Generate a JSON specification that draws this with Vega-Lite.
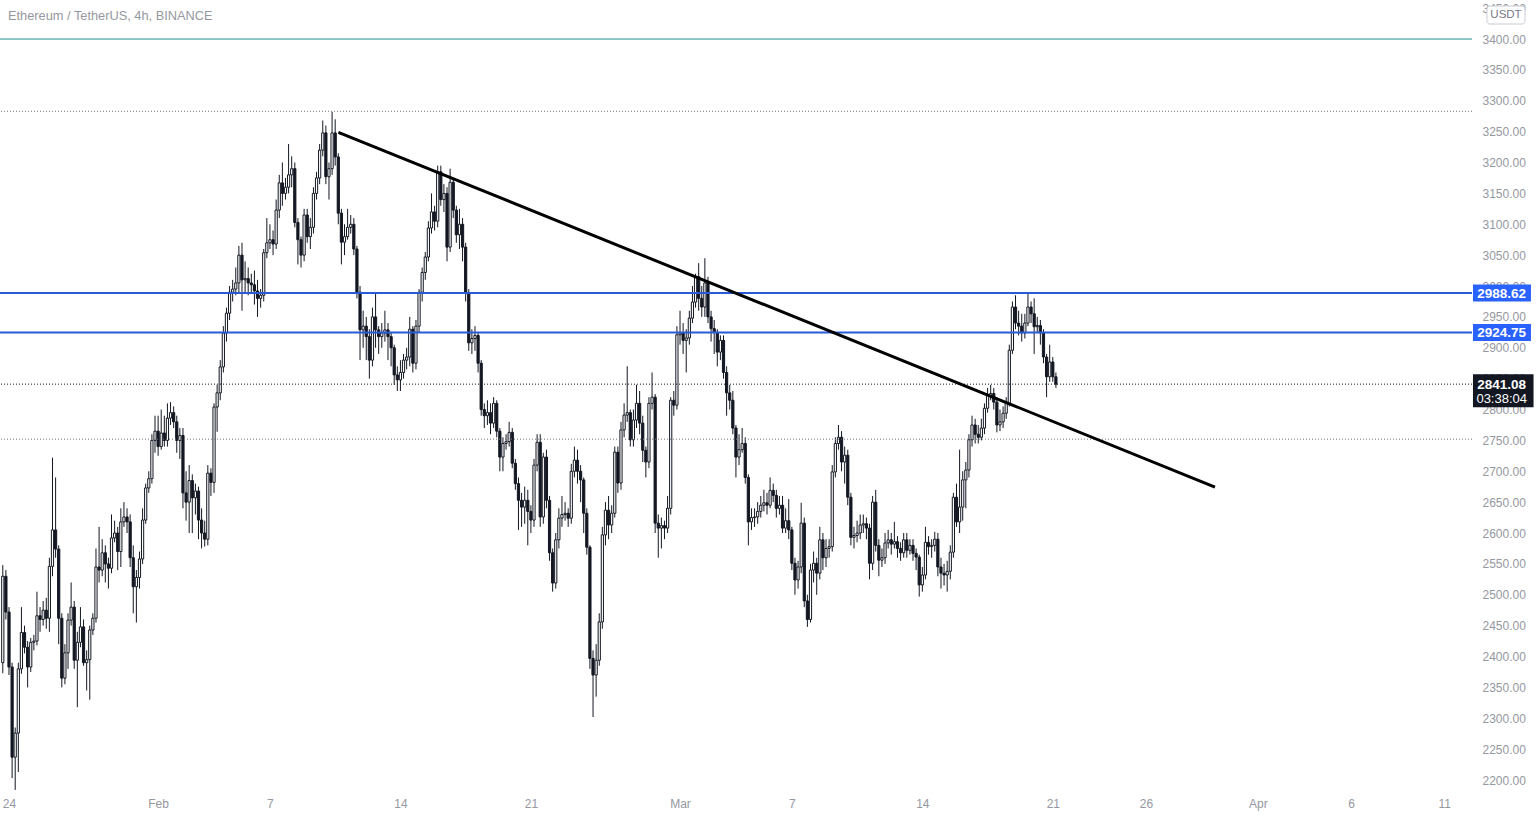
{
"$schema":"https://vega.github.io/schema/vega-lite/v6.json",
"width":1472,"height":792,"padding":{"left":0,"top":0,"right":68,"bottom":26},"autosize":{"type":"none"},
"background":"#ffffff",
"config":{"view":{"stroke":null},"font":"Liberation Sans","scale":{"continuousPadding":0},"axis":{"title":null,"grid":false,"ticks":false,"domain":false,"labelColor":"#9598a1","labelFontSize":12,"labelFont":"Liberation Sans","labelOverlap":false,"labelFlush":false,"labelBound":false}},
"title":{"text":"Ethereum / TetherUS, 4h, BINANCE","anchor":"start","orient":"top","frame":"group","offset":-33,"dx":8,"baseline":"alphabetic","fontSize":12.8,"fontWeight":"normal","color":"#9598a1","font":"Liberation Sans"},
"datasets":{
"candles":[
{"t":"2022-01-23T16:00Z","o":2390,"h":2548,"l":2373,"c":2530},
{"t":"2022-01-23T20:00Z","o":2530,"h":2540,"l":2460,"c":2472},
{"t":"2022-01-24T00:00Z","o":2472,"h":2480,"l":2370,"c":2383},
{"t":"2022-01-24T04:00Z","o":2383,"h":2390,"l":2203,"c":2237},
{"t":"2022-01-24T08:00Z","o":2237,"h":2285,"l":2184,"c":2276},
{"t":"2022-01-24T12:00Z","o":2276,"h":2390,"l":2213,"c":2380},
{"t":"2022-01-24T16:00Z","o":2380,"h":2480,"l":2372,"c":2439},
{"t":"2022-01-24T20:00Z","o":2439,"h":2450,"l":2405,"c":2415},
{"t":"2022-01-25T00:00Z","o":2415,"h":2425,"l":2350,"c":2383},
{"t":"2022-01-25T04:00Z","o":2383,"h":2430,"l":2375,"c":2423},
{"t":"2022-01-25T08:00Z","o":2423,"h":2435,"l":2410,"c":2425},
{"t":"2022-01-25T12:00Z","o":2425,"h":2505,"l":2418,"c":2466},
{"t":"2022-01-25T16:00Z","o":2466,"h":2480,"l":2440,"c":2460},
{"t":"2022-01-25T20:00Z","o":2460,"h":2490,"l":2450,"c":2475},
{"t":"2022-01-26T00:00Z","o":2475,"h":2495,"l":2445,"c":2462},
{"t":"2022-01-26T04:00Z","o":2462,"h":2560,"l":2440,"c":2546},
{"t":"2022-01-26T08:00Z","o":2546,"h":2722,"l":2530,"c":2605},
{"t":"2022-01-26T12:00Z","o":2605,"h":2690,"l":2560,"c":2574},
{"t":"2022-01-26T16:00Z","o":2574,"h":2580,"l":2420,"c":2462},
{"t":"2022-01-26T20:00Z","o":2462,"h":2470,"l":2350,"c":2365},
{"t":"2022-01-27T00:00Z","o":2365,"h":2420,"l":2355,"c":2406},
{"t":"2022-01-27T04:00Z","o":2406,"h":2470,"l":2380,"c":2459},
{"t":"2022-01-27T08:00Z","o":2459,"h":2520,"l":2450,"c":2480},
{"t":"2022-01-27T12:00Z","o":2480,"h":2490,"l":2380,"c":2394},
{"t":"2022-01-27T16:00Z","o":2394,"h":2440,"l":2318,"c":2423},
{"t":"2022-01-27T20:00Z","o":2423,"h":2480,"l":2415,"c":2448},
{"t":"2022-01-28T00:00Z","o":2448,"h":2460,"l":2385,"c":2390},
{"t":"2022-01-28T04:00Z","o":2390,"h":2410,"l":2345,"c":2395},
{"t":"2022-01-28T08:00Z","o":2395,"h":2450,"l":2330,"c":2443},
{"t":"2022-01-28T12:00Z","o":2443,"h":2470,"l":2435,"c":2462},
{"t":"2022-01-28T16:00Z","o":2462,"h":2575,"l":2455,"c":2545},
{"t":"2022-01-28T20:00Z","o":2545,"h":2610,"l":2520,"c":2540},
{"t":"2022-01-29T00:00Z","o":2540,"h":2590,"l":2530,"c":2568},
{"t":"2022-01-29T04:00Z","o":2568,"h":2580,"l":2520,"c":2550},
{"t":"2022-01-29T08:00Z","o":2550,"h":2560,"l":2510,"c":2543},
{"t":"2022-01-29T12:00Z","o":2543,"h":2630,"l":2535,"c":2592},
{"t":"2022-01-29T16:00Z","o":2592,"h":2620,"l":2585,"c":2600},
{"t":"2022-01-29T20:00Z","o":2600,"h":2610,"l":2540,"c":2570},
{"t":"2022-01-30T00:00Z","o":2570,"h":2640,"l":2545,"c":2618},
{"t":"2022-01-30T04:00Z","o":2618,"h":2650,"l":2610,"c":2626},
{"t":"2022-01-30T08:00Z","o":2626,"h":2640,"l":2600,"c":2618},
{"t":"2022-01-30T12:00Z","o":2618,"h":2630,"l":2545,"c":2560},
{"t":"2022-01-30T16:00Z","o":2560,"h":2580,"l":2470,"c":2513},
{"t":"2022-01-30T20:00Z","o":2513,"h":2540,"l":2455,"c":2528},
{"t":"2022-01-31T00:00Z","o":2528,"h":2570,"l":2510,"c":2558},
{"t":"2022-01-31T04:00Z","o":2558,"h":2640,"l":2550,"c":2621},
{"t":"2022-01-31T08:00Z","o":2621,"h":2680,"l":2615,"c":2673},
{"t":"2022-01-31T12:00Z","o":2673,"h":2700,"l":2665,"c":2688},
{"t":"2022-01-31T16:00Z","o":2688,"h":2760,"l":2680,"c":2750},
{"t":"2022-01-31T20:00Z","o":2750,"h":2790,"l":2730,"c":2765},
{"t":"2022-02-01T00:00Z","o":2765,"h":2790,"l":2725,"c":2740},
{"t":"2022-02-01T04:00Z","o":2740,"h":2800,"l":2735,"c":2762},
{"t":"2022-02-01T08:00Z","o":2762,"h":2790,"l":2740,"c":2750},
{"t":"2022-02-01T12:00Z","o":2750,"h":2810,"l":2740,"c":2786},
{"t":"2022-02-01T16:00Z","o":2786,"h":2812,"l":2775,"c":2795},
{"t":"2022-02-01T20:00Z","o":2795,"h":2805,"l":2770,"c":2780},
{"t":"2022-02-02T00:00Z","o":2780,"h":2790,"l":2730,"c":2750},
{"t":"2022-02-02T04:00Z","o":2750,"h":2770,"l":2720,"c":2758},
{"t":"2022-02-02T08:00Z","o":2758,"h":2770,"l":2640,"c":2665},
{"t":"2022-02-02T12:00Z","o":2665,"h":2700,"l":2620,"c":2650},
{"t":"2022-02-02T16:00Z","o":2650,"h":2710,"l":2600,"c":2685},
{"t":"2022-02-02T20:00Z","o":2685,"h":2695,"l":2600,"c":2657},
{"t":"2022-02-03T00:00Z","o":2657,"h":2680,"l":2630,"c":2668},
{"t":"2022-02-03T04:00Z","o":2668,"h":2675,"l":2590,"c":2621},
{"t":"2022-02-03T08:00Z","o":2621,"h":2640,"l":2575,"c":2600},
{"t":"2022-02-03T12:00Z","o":2600,"h":2620,"l":2578,"c":2590},
{"t":"2022-02-03T16:00Z","o":2590,"h":2710,"l":2580,"c":2697},
{"t":"2022-02-03T20:00Z","o":2697,"h":2705,"l":2660,"c":2682},
{"t":"2022-02-04T00:00Z","o":2682,"h":2810,"l":2665,"c":2804},
{"t":"2022-02-04T04:00Z","o":2804,"h":2840,"l":2764,"c":2827},
{"t":"2022-02-04T08:00Z","o":2827,"h":2880,"l":2815,"c":2869},
{"t":"2022-02-04T12:00Z","o":2869,"h":2935,"l":2860,"c":2924},
{"t":"2022-02-04T16:00Z","o":2924,"h":2965,"l":2910,"c":2956},
{"t":"2022-02-04T20:00Z","o":2956,"h":3000,"l":2945,"c":2990},
{"t":"2022-02-05T00:00Z","o":2990,"h":3010,"l":2975,"c":2995},
{"t":"2022-02-05T04:00Z","o":2995,"h":3030,"l":2985,"c":3005},
{"t":"2022-02-05T08:00Z","o":3005,"h":3065,"l":2990,"c":3050},
{"t":"2022-02-05T12:00Z","o":3050,"h":3070,"l":2960,"c":3010},
{"t":"2022-02-05T16:00Z","o":3010,"h":3040,"l":2990,"c":3012},
{"t":"2022-02-05T20:00Z","o":3012,"h":3030,"l":2985,"c":3005},
{"t":"2022-02-06T00:00Z","o":3005,"h":3020,"l":2990,"c":3002},
{"t":"2022-02-06T04:00Z","o":3002,"h":3025,"l":2970,"c":2992},
{"t":"2022-02-06T08:00Z","o":2992,"h":3010,"l":2950,"c":2980},
{"t":"2022-02-06T12:00Z","o":2980,"h":2995,"l":2965,"c":2985},
{"t":"2022-02-06T16:00Z","o":2985,"h":3060,"l":2975,"c":3054},
{"t":"2022-02-06T20:00Z","o":3054,"h":3110,"l":3045,"c":3070},
{"t":"2022-02-07T00:00Z","o":3070,"h":3100,"l":3060,"c":3075},
{"t":"2022-02-07T04:00Z","o":3075,"h":3090,"l":3050,"c":3068},
{"t":"2022-02-07T08:00Z","o":3068,"h":3140,"l":3060,"c":3123},
{"t":"2022-02-07T12:00Z","o":3123,"h":3180,"l":3110,"c":3167},
{"t":"2022-02-07T16:00Z","o":3167,"h":3200,"l":3130,"c":3150},
{"t":"2022-02-07T20:00Z","o":3150,"h":3175,"l":3140,"c":3160},
{"t":"2022-02-08T00:00Z","o":3160,"h":3230,"l":3150,"c":3180},
{"t":"2022-02-08T04:00Z","o":3180,"h":3210,"l":3160,"c":3190},
{"t":"2022-02-08T08:00Z","o":3190,"h":3200,"l":3095,"c":3103},
{"t":"2022-02-08T12:00Z","o":3103,"h":3110,"l":3035,"c":3075},
{"t":"2022-02-08T16:00Z","o":3075,"h":3080,"l":3030,"c":3050},
{"t":"2022-02-08T20:00Z","o":3050,"h":3125,"l":3040,"c":3115},
{"t":"2022-02-09T00:00Z","o":3115,"h":3125,"l":3070,"c":3080},
{"t":"2022-02-09T04:00Z","o":3080,"h":3110,"l":3060,"c":3095},
{"t":"2022-02-09T08:00Z","o":3095,"h":3160,"l":3085,"c":3150},
{"t":"2022-02-09T12:00Z","o":3150,"h":3185,"l":3140,"c":3175},
{"t":"2022-02-09T16:00Z","o":3175,"h":3230,"l":3165,"c":3220},
{"t":"2022-02-09T20:00Z","o":3220,"h":3268,"l":3210,"c":3248},
{"t":"2022-02-10T00:00Z","o":3248,"h":3260,"l":3165,"c":3177},
{"t":"2022-02-10T04:00Z","o":3177,"h":3200,"l":3140,"c":3190},
{"t":"2022-02-10T08:00Z","o":3190,"h":3282,"l":3180,"c":3248},
{"t":"2022-02-10T12:00Z","o":3248,"h":3270,"l":3195,"c":3209},
{"t":"2022-02-10T16:00Z","o":3209,"h":3215,"l":3100,"c":3118},
{"t":"2022-02-10T20:00Z","o":3118,"h":3125,"l":3035,"c":3071},
{"t":"2022-02-11T00:00Z","o":3071,"h":3100,"l":3050,"c":3080},
{"t":"2022-02-11T04:00Z","o":3080,"h":3125,"l":3075,"c":3095},
{"t":"2022-02-11T08:00Z","o":3095,"h":3115,"l":3085,"c":3100},
{"t":"2022-02-11T12:00Z","o":3100,"h":3110,"l":3050,"c":3060},
{"t":"2022-02-11T16:00Z","o":3060,"h":3065,"l":2980,"c":2990},
{"t":"2022-02-11T20:00Z","o":2990,"h":3000,"l":2880,"c":2929},
{"t":"2022-02-12T00:00Z","o":2929,"h":2960,"l":2900,"c":2935},
{"t":"2022-02-12T04:00Z","o":2935,"h":2950,"l":2880,"c":2918},
{"t":"2022-02-12T08:00Z","o":2918,"h":2930,"l":2850,"c":2880},
{"t":"2022-02-12T12:00Z","o":2880,"h":2965,"l":2870,"c":2950},
{"t":"2022-02-12T16:00Z","o":2950,"h":2990,"l":2900,"c":2929},
{"t":"2022-02-12T20:00Z","o":2929,"h":2935,"l":2890,"c":2918},
{"t":"2022-02-13T00:00Z","o":2918,"h":2940,"l":2900,"c":2924},
{"t":"2022-02-13T04:00Z","o":2924,"h":2960,"l":2910,"c":2929},
{"t":"2022-02-13T08:00Z","o":2929,"h":2940,"l":2880,"c":2918},
{"t":"2022-02-13T12:00Z","o":2918,"h":2925,"l":2870,"c":2900},
{"t":"2022-02-13T16:00Z","o":2900,"h":2905,"l":2840,"c":2856},
{"t":"2022-02-13T20:00Z","o":2856,"h":2870,"l":2830,"c":2848},
{"t":"2022-02-14T00:00Z","o":2848,"h":2880,"l":2830,"c":2860},
{"t":"2022-02-14T04:00Z","o":2860,"h":2890,"l":2850,"c":2880},
{"t":"2022-02-14T08:00Z","o":2880,"h":2900,"l":2865,"c":2885},
{"t":"2022-02-14T12:00Z","o":2885,"h":2950,"l":2870,"c":2930},
{"t":"2022-02-14T16:00Z","o":2930,"h":2935,"l":2860,"c":2875},
{"t":"2022-02-14T20:00Z","o":2875,"h":2945,"l":2865,"c":2935},
{"t":"2022-02-15T00:00Z","o":2935,"h":2995,"l":2925,"c":2990},
{"t":"2022-02-15T04:00Z","o":2990,"h":3030,"l":2975,"c":3022},
{"t":"2022-02-15T08:00Z","o":3022,"h":3055,"l":3010,"c":3047},
{"t":"2022-02-15T12:00Z","o":3047,"h":3105,"l":3040,"c":3094},
{"t":"2022-02-15T16:00Z","o":3094,"h":3150,"l":3085,"c":3120},
{"t":"2022-02-15T20:00Z","o":3120,"h":3130,"l":3090,"c":3105},
{"t":"2022-02-16T00:00Z","o":3105,"h":3195,"l":3095,"c":3185},
{"t":"2022-02-16T04:00Z","o":3185,"h":3195,"l":3130,"c":3140},
{"t":"2022-02-16T08:00Z","o":3140,"h":3165,"l":3120,"c":3150},
{"t":"2022-02-16T12:00Z","o":3150,"h":3160,"l":3040,"c":3063},
{"t":"2022-02-16T16:00Z","o":3063,"h":3190,"l":3055,"c":3168},
{"t":"2022-02-16T20:00Z","o":3168,"h":3175,"l":3110,"c":3123},
{"t":"2022-02-17T00:00Z","o":3123,"h":3130,"l":3070,"c":3083},
{"t":"2022-02-17T04:00Z","o":3083,"h":3125,"l":3060,"c":3100},
{"t":"2022-02-17T08:00Z","o":3100,"h":3110,"l":3040,"c":3063},
{"t":"2022-02-17T12:00Z","o":3063,"h":3070,"l":2975,"c":2988},
{"t":"2022-02-17T16:00Z","o":2988,"h":2995,"l":2895,"c":2908},
{"t":"2022-02-17T20:00Z","o":2908,"h":2930,"l":2890,"c":2915},
{"t":"2022-02-18T00:00Z","o":2915,"h":2935,"l":2895,"c":2920},
{"t":"2022-02-18T04:00Z","o":2920,"h":2925,"l":2860,"c":2875},
{"t":"2022-02-18T08:00Z","o":2875,"h":2880,"l":2790,"c":2800},
{"t":"2022-02-18T12:00Z","o":2800,"h":2810,"l":2770,"c":2790},
{"t":"2022-02-18T16:00Z","o":2790,"h":2815,"l":2775,"c":2795},
{"t":"2022-02-18T20:00Z","o":2795,"h":2810,"l":2760,"c":2778},
{"t":"2022-02-19T00:00Z","o":2778,"h":2820,"l":2770,"c":2810},
{"t":"2022-02-19T04:00Z","o":2810,"h":2815,"l":2755,"c":2765},
{"t":"2022-02-19T08:00Z","o":2765,"h":2770,"l":2700,"c":2723},
{"t":"2022-02-19T12:00Z","o":2723,"h":2755,"l":2700,"c":2745},
{"t":"2022-02-19T16:00Z","o":2745,"h":2760,"l":2735,"c":2748},
{"t":"2022-02-19T20:00Z","o":2748,"h":2780,"l":2740,"c":2763},
{"t":"2022-02-20T00:00Z","o":2763,"h":2770,"l":2705,"c":2713},
{"t":"2022-02-20T04:00Z","o":2713,"h":2720,"l":2670,"c":2680},
{"t":"2022-02-20T08:00Z","o":2680,"h":2690,"l":2605,"c":2653},
{"t":"2022-02-20T12:00Z","o":2653,"h":2665,"l":2610,"c":2642},
{"t":"2022-02-20T16:00Z","o":2642,"h":2675,"l":2615,"c":2653},
{"t":"2022-02-20T20:00Z","o":2653,"h":2670,"l":2580,"c":2635},
{"t":"2022-02-21T00:00Z","o":2635,"h":2645,"l":2600,"c":2621},
{"t":"2022-02-21T04:00Z","o":2621,"h":2720,"l":2610,"c":2710},
{"t":"2022-02-21T08:00Z","o":2710,"h":2760,"l":2700,"c":2747},
{"t":"2022-02-21T12:00Z","o":2747,"h":2760,"l":2610,"c":2626},
{"t":"2022-02-21T16:00Z","o":2626,"h":2730,"l":2615,"c":2723},
{"t":"2022-02-21T20:00Z","o":2723,"h":2735,"l":2640,"c":2653},
{"t":"2022-02-22T00:00Z","o":2653,"h":2660,"l":2555,"c":2568},
{"t":"2022-02-22T04:00Z","o":2568,"h":2575,"l":2505,"c":2519},
{"t":"2022-02-22T08:00Z","o":2519,"h":2600,"l":2510,"c":2589},
{"t":"2022-02-22T12:00Z","o":2589,"h":2640,"l":2575,"c":2624},
{"t":"2022-02-22T16:00Z","o":2624,"h":2660,"l":2610,"c":2630},
{"t":"2022-02-22T20:00Z","o":2630,"h":2650,"l":2620,"c":2632},
{"t":"2022-02-23T00:00Z","o":2632,"h":2640,"l":2610,"c":2624},
{"t":"2022-02-23T04:00Z","o":2624,"h":2712,"l":2615,"c":2700},
{"t":"2022-02-23T08:00Z","o":2700,"h":2740,"l":2690,"c":2718},
{"t":"2022-02-23T12:00Z","o":2718,"h":2735,"l":2680,"c":2700},
{"t":"2022-02-23T16:00Z","o":2700,"h":2710,"l":2650,"c":2686},
{"t":"2022-02-23T20:00Z","o":2686,"h":2690,"l":2600,"c":2632},
{"t":"2022-02-24T00:00Z","o":2632,"h":2640,"l":2565,"c":2577},
{"t":"2022-02-24T04:00Z","o":2577,"h":2580,"l":2380,"c":2397},
{"t":"2022-02-24T08:00Z","o":2397,"h":2410,"l":2302,"c":2370},
{"t":"2022-02-24T12:00Z","o":2370,"h":2420,"l":2335,"c":2394},
{"t":"2022-02-24T16:00Z","o":2394,"h":2470,"l":2385,"c":2456},
{"t":"2022-02-24T20:00Z","o":2456,"h":2610,"l":2445,"c":2597},
{"t":"2022-02-25T00:00Z","o":2597,"h":2650,"l":2580,"c":2637},
{"t":"2022-02-25T04:00Z","o":2637,"h":2660,"l":2590,"c":2613},
{"t":"2022-02-25T08:00Z","o":2613,"h":2645,"l":2600,"c":2632},
{"t":"2022-02-25T12:00Z","o":2632,"h":2740,"l":2625,"c":2731},
{"t":"2022-02-25T16:00Z","o":2731,"h":2740,"l":2665,"c":2681},
{"t":"2022-02-25T20:00Z","o":2681,"h":2780,"l":2670,"c":2767},
{"t":"2022-02-26T00:00Z","o":2767,"h":2810,"l":2755,"c":2791},
{"t":"2022-02-26T04:00Z","o":2791,"h":2870,"l":2780,"c":2795},
{"t":"2022-02-26T08:00Z","o":2795,"h":2800,"l":2740,"c":2751},
{"t":"2022-02-26T12:00Z","o":2751,"h":2800,"l":2740,"c":2783},
{"t":"2022-02-26T16:00Z","o":2783,"h":2840,"l":2770,"c":2810},
{"t":"2022-02-26T20:00Z","o":2810,"h":2830,"l":2760,"c":2778},
{"t":"2022-02-27T00:00Z","o":2778,"h":2790,"l":2715,"c":2734},
{"t":"2022-02-27T04:00Z","o":2734,"h":2740,"l":2690,"c":2715},
{"t":"2022-02-27T08:00Z","o":2715,"h":2820,"l":2705,"c":2810},
{"t":"2022-02-27T12:00Z","o":2810,"h":2860,"l":2800,"c":2820},
{"t":"2022-02-27T16:00Z","o":2820,"h":2825,"l":2600,"c":2616},
{"t":"2022-02-27T20:00Z","o":2616,"h":2630,"l":2560,"c":2608},
{"t":"2022-02-28T00:00Z","o":2608,"h":2625,"l":2575,"c":2612},
{"t":"2022-02-28T04:00Z","o":2612,"h":2620,"l":2590,"c":2608},
{"t":"2022-02-28T08:00Z","o":2608,"h":2660,"l":2600,"c":2640},
{"t":"2022-02-28T12:00Z","o":2640,"h":2820,"l":2630,"c":2815},
{"t":"2022-02-28T16:00Z","o":2815,"h":2830,"l":2790,"c":2807},
{"t":"2022-02-28T20:00Z","o":2807,"h":2935,"l":2800,"c":2921},
{"t":"2022-03-01T00:00Z","o":2921,"h":2960,"l":2905,"c":2924},
{"t":"2022-03-01T04:00Z","o":2924,"h":2940,"l":2890,"c":2912},
{"t":"2022-03-01T08:00Z","o":2912,"h":2930,"l":2860,"c":2916},
{"t":"2022-03-01T12:00Z","o":2916,"h":2960,"l":2905,"c":2948},
{"t":"2022-03-01T16:00Z","o":2948,"h":3000,"l":2940,"c":2974},
{"t":"2022-03-01T20:00Z","o":2974,"h":3020,"l":2965,"c":3015},
{"t":"2022-03-02T00:00Z","o":3015,"h":3037,"l":2960,"c":2980},
{"t":"2022-03-02T04:00Z","o":2980,"h":3000,"l":2950,"c":2966},
{"t":"2022-03-02T08:00Z","o":2966,"h":3045,"l":2950,"c":3005},
{"t":"2022-03-02T12:00Z","o":3005,"h":3015,"l":2940,"c":2950},
{"t":"2022-03-02T16:00Z","o":2950,"h":2960,"l":2910,"c":2931},
{"t":"2022-03-02T20:00Z","o":2931,"h":2945,"l":2890,"c":2925},
{"t":"2022-03-03T00:00Z","o":2925,"h":2930,"l":2870,"c":2893},
{"t":"2022-03-03T04:00Z","o":2893,"h":2920,"l":2880,"c":2912},
{"t":"2022-03-03T08:00Z","o":2912,"h":2920,"l":2850,"c":2860},
{"t":"2022-03-03T12:00Z","o":2860,"h":2870,"l":2790,"c":2827},
{"t":"2022-03-03T16:00Z","o":2827,"h":2840,"l":2800,"c":2815},
{"t":"2022-03-03T20:00Z","o":2815,"h":2830,"l":2760,"c":2770},
{"t":"2022-03-04T00:00Z","o":2770,"h":2775,"l":2690,"c":2723},
{"t":"2022-03-04T04:00Z","o":2723,"h":2760,"l":2710,"c":2735},
{"t":"2022-03-04T08:00Z","o":2735,"h":2770,"l":2730,"c":2745},
{"t":"2022-03-04T12:00Z","o":2745,"h":2755,"l":2680,"c":2690},
{"t":"2022-03-04T16:00Z","o":2690,"h":2695,"l":2580,"c":2618},
{"t":"2022-03-04T20:00Z","o":2618,"h":2640,"l":2605,"c":2625},
{"t":"2022-03-05T00:00Z","o":2625,"h":2640,"l":2610,"c":2626},
{"t":"2022-03-05T04:00Z","o":2626,"h":2650,"l":2615,"c":2635},
{"t":"2022-03-05T08:00Z","o":2635,"h":2660,"l":2625,"c":2645},
{"t":"2022-03-05T12:00Z","o":2645,"h":2670,"l":2635,"c":2649},
{"t":"2022-03-05T16:00Z","o":2649,"h":2665,"l":2630,"c":2645},
{"t":"2022-03-05T20:00Z","o":2645,"h":2690,"l":2640,"c":2669},
{"t":"2022-03-06T00:00Z","o":2669,"h":2680,"l":2650,"c":2661},
{"t":"2022-03-06T04:00Z","o":2661,"h":2670,"l":2625,"c":2640},
{"t":"2022-03-06T08:00Z","o":2640,"h":2660,"l":2630,"c":2645},
{"t":"2022-03-06T12:00Z","o":2645,"h":2660,"l":2600,"c":2608},
{"t":"2022-03-06T16:00Z","o":2608,"h":2640,"l":2600,"c":2620},
{"t":"2022-03-06T20:00Z","o":2620,"h":2655,"l":2590,"c":2605},
{"t":"2022-03-07T00:00Z","o":2605,"h":2610,"l":2540,"c":2551},
{"t":"2022-03-07T04:00Z","o":2551,"h":2560,"l":2500,"c":2524},
{"t":"2022-03-07T08:00Z","o":2524,"h":2555,"l":2510,"c":2545},
{"t":"2022-03-07T12:00Z","o":2545,"h":2649,"l":2535,"c":2616},
{"t":"2022-03-07T16:00Z","o":2616,"h":2625,"l":2480,"c":2490},
{"t":"2022-03-07T20:00Z","o":2490,"h":2500,"l":2448,"c":2460},
{"t":"2022-03-08T00:00Z","o":2460,"h":2550,"l":2455,"c":2540},
{"t":"2022-03-08T04:00Z","o":2540,"h":2570,"l":2520,"c":2551},
{"t":"2022-03-08T08:00Z","o":2551,"h":2560,"l":2500,"c":2535},
{"t":"2022-03-08T12:00Z","o":2535,"h":2610,"l":2525,"c":2589},
{"t":"2022-03-08T16:00Z","o":2589,"h":2600,"l":2540,"c":2560},
{"t":"2022-03-08T20:00Z","o":2560,"h":2590,"l":2545,"c":2575},
{"t":"2022-03-09T00:00Z","o":2575,"h":2590,"l":2560,"c":2578},
{"t":"2022-03-09T04:00Z","o":2578,"h":2710,"l":2570,"c":2699},
{"t":"2022-03-09T08:00Z","o":2699,"h":2755,"l":2690,"c":2745},
{"t":"2022-03-09T12:00Z","o":2745,"h":2775,"l":2735,"c":2755},
{"t":"2022-03-09T16:00Z","o":2755,"h":2765,"l":2700,"c":2715},
{"t":"2022-03-09T20:00Z","o":2715,"h":2740,"l":2680,"c":2726},
{"t":"2022-03-10T00:00Z","o":2726,"h":2735,"l":2645,"c":2658},
{"t":"2022-03-10T04:00Z","o":2658,"h":2665,"l":2580,"c":2593},
{"t":"2022-03-10T08:00Z","o":2593,"h":2610,"l":2575,"c":2596},
{"t":"2022-03-10T12:00Z","o":2596,"h":2620,"l":2585,"c":2600},
{"t":"2022-03-10T16:00Z","o":2600,"h":2630,"l":2590,"c":2613},
{"t":"2022-03-10T20:00Z","o":2613,"h":2630,"l":2600,"c":2615},
{"t":"2022-03-11T00:00Z","o":2615,"h":2625,"l":2590,"c":2608},
{"t":"2022-03-11T04:00Z","o":2608,"h":2615,"l":2525,"c":2551},
{"t":"2022-03-11T08:00Z","o":2551,"h":2660,"l":2540,"c":2650},
{"t":"2022-03-11T12:00Z","o":2650,"h":2670,"l":2570,"c":2580},
{"t":"2022-03-11T16:00Z","o":2580,"h":2590,"l":2530,"c":2556},
{"t":"2022-03-11T20:00Z","o":2556,"h":2575,"l":2545,"c":2560},
{"t":"2022-03-12T00:00Z","o":2560,"h":2600,"l":2550,"c":2584},
{"t":"2022-03-12T04:00Z","o":2584,"h":2605,"l":2575,"c":2589},
{"t":"2022-03-12T08:00Z","o":2589,"h":2600,"l":2565,"c":2582},
{"t":"2022-03-12T12:00Z","o":2582,"h":2618,"l":2575,"c":2586},
{"t":"2022-03-12T16:00Z","o":2586,"h":2595,"l":2560,"c":2575},
{"t":"2022-03-12T20:00Z","o":2575,"h":2585,"l":2555,"c":2568},
{"t":"2022-03-13T00:00Z","o":2568,"h":2600,"l":2560,"c":2589},
{"t":"2022-03-13T04:00Z","o":2589,"h":2600,"l":2560,"c":2572},
{"t":"2022-03-13T08:00Z","o":2572,"h":2590,"l":2565,"c":2580},
{"t":"2022-03-13T12:00Z","o":2580,"h":2590,"l":2555,"c":2567},
{"t":"2022-03-13T16:00Z","o":2567,"h":2575,"l":2540,"c":2561},
{"t":"2022-03-13T20:00Z","o":2561,"h":2565,"l":2497,"c":2516},
{"t":"2022-03-14T00:00Z","o":2516,"h":2545,"l":2505,"c":2532},
{"t":"2022-03-14T04:00Z","o":2532,"h":2610,"l":2525,"c":2585},
{"t":"2022-03-14T08:00Z","o":2585,"h":2595,"l":2565,"c":2578},
{"t":"2022-03-14T12:00Z","o":2578,"h":2590,"l":2560,"c":2580},
{"t":"2022-03-14T16:00Z","o":2580,"h":2602,"l":2570,"c":2590},
{"t":"2022-03-14T20:00Z","o":2590,"h":2600,"l":2530,"c":2545},
{"t":"2022-03-15T00:00Z","o":2545,"h":2560,"l":2510,"c":2535},
{"t":"2022-03-15T04:00Z","o":2535,"h":2550,"l":2515,"c":2532},
{"t":"2022-03-15T08:00Z","o":2532,"h":2555,"l":2505,"c":2538},
{"t":"2022-03-15T12:00Z","o":2538,"h":2580,"l":2525,"c":2569},
{"t":"2022-03-15T16:00Z","o":2569,"h":2665,"l":2560,"c":2658},
{"t":"2022-03-15T20:00Z","o":2658,"h":2680,"l":2610,"c":2618},
{"t":"2022-03-16T00:00Z","o":2618,"h":2735,"l":2600,"c":2642},
{"t":"2022-03-16T04:00Z","o":2642,"h":2700,"l":2620,"c":2686},
{"t":"2022-03-16T08:00Z","o":2686,"h":2715,"l":2640,"c":2702},
{"t":"2022-03-16T12:00Z","o":2702,"h":2760,"l":2690,"c":2751},
{"t":"2022-03-16T16:00Z","o":2751,"h":2790,"l":2740,"c":2775},
{"t":"2022-03-16T20:00Z","o":2775,"h":2785,"l":2745,"c":2760},
{"t":"2022-03-17T00:00Z","o":2760,"h":2775,"l":2745,"c":2755},
{"t":"2022-03-17T04:00Z","o":2755,"h":2785,"l":2750,"c":2770},
{"t":"2022-03-17T08:00Z","o":2770,"h":2810,"l":2760,"c":2802},
{"t":"2022-03-17T12:00Z","o":2802,"h":2835,"l":2795,"c":2823},
{"t":"2022-03-17T16:00Z","o":2823,"h":2840,"l":2815,"c":2826},
{"t":"2022-03-17T20:00Z","o":2826,"h":2835,"l":2800,"c":2812},
{"t":"2022-03-18T00:00Z","o":2812,"h":2820,"l":2763,"c":2775},
{"t":"2022-03-18T04:00Z","o":2775,"h":2800,"l":2765,"c":2780},
{"t":"2022-03-18T08:00Z","o":2780,"h":2805,"l":2770,"c":2794},
{"t":"2022-03-18T12:00Z","o":2794,"h":2820,"l":2785,"c":2810},
{"t":"2022-03-18T16:00Z","o":2810,"h":2905,"l":2805,"c":2896},
{"t":"2022-03-18T20:00Z","o":2896,"h":2975,"l":2890,"c":2966},
{"t":"2022-03-19T00:00Z","o":2966,"h":2985,"l":2930,"c":2940},
{"t":"2022-03-19T04:00Z","o":2940,"h":2960,"l":2920,"c":2935},
{"t":"2022-03-19T08:00Z","o":2935,"h":2955,"l":2910,"c":2924},
{"t":"2022-03-19T12:00Z","o":2924,"h":2955,"l":2915,"c":2940},
{"t":"2022-03-19T16:00Z","o":2940,"h":2988,"l":2935,"c":2966},
{"t":"2022-03-19T20:00Z","o":2966,"h":2975,"l":2940,"c":2955},
{"t":"2022-03-20T00:00Z","o":2955,"h":2980,"l":2890,"c":2934},
{"t":"2022-03-20T04:00Z","o":2934,"h":2950,"l":2925,"c":2936},
{"t":"2022-03-20T08:00Z","o":2936,"h":2945,"l":2905,"c":2924},
{"t":"2022-03-20T12:00Z","o":2924,"h":2930,"l":2875,"c":2885},
{"t":"2022-03-20T16:00Z","o":2885,"h":2890,"l":2820,"c":2853},
{"t":"2022-03-20T20:00Z","o":2853,"h":2905,"l":2845,"c":2877},
{"t":"2022-03-21T00:00Z","o":2877,"h":2885,"l":2845,"c":2853},
{"t":"2022-03-21T04:00Z","o":2853,"h":2860,"l":2835,"c":2841.08}
],
"levels":[
{"p":3400,"k":"teal"},
{"p":3283,"k":"dot"},
{"p":2988.62,"k":"blue"},
{"p":2924.75,"k":"blue"},
{"p":2841.08,"k":"price"},
{"p":2752,"k":"dot"}
],
"trend":[
{"t":"2022-02-10T16:05Z","p":3249},
{"t":"2022-03-29T16:48Z","p":2674.5}
],
"tags":[
{"p":2988.62,"lab":"2988.62","sub":"","k":"blue"},
{"p":2924.75,"lab":"2924.75","sub":"","k":"blue"},
{"p":2841.08,"lab":"2841.08","sub":"03:38:04","k":"price"}
],
"unit":[{"lab":"USDT"}]
},
"layer":[
{"data":{"name":"candles"},
 "mark":{"type":"rule","color":"#131722","strokeWidth":1},
 "encoding":{
  "x":{"field":"t","type":"temporal",
   "scale":{"type":"utc","padding":0,"domain":[{"year":2022,"month":1,"date":23,"hours":12,"minutes":25,"utc":true},{"year":2022,"month":4,"date":12,"hours":11,"minutes":45,"utc":true}]},
   "axis":{"title":null,"labelPadding":6,"labelOverlap":false,"tickCount":40,
    "values":[{"year":2022,"month":1,"date":24,"utc":true},{"year":2022,"month":2,"date":1,"utc":true},{"year":2022,"month":2,"date":7,"utc":true},{"year":2022,"month":2,"date":14,"utc":true},{"year":2022,"month":2,"date":21,"utc":true},{"year":2022,"month":3,"date":1,"utc":true},{"year":2022,"month":3,"date":7,"utc":true},{"year":2022,"month":3,"date":14,"utc":true},{"year":2022,"month":3,"date":21,"utc":true},{"year":2022,"month":3,"date":26,"utc":true},{"year":2022,"month":4,"date":1,"utc":true},{"year":2022,"month":4,"date":6,"utc":true},{"year":2022,"month":4,"date":11,"utc":true}],
    "labelExpr":"utcFormat(datum.value, '%d') == '01' ? utcFormat(datum.value, '%b') : utcFormat(datum.value, '%-d')"}},
  "y":{"field":"l","type":"quantitative",
   "scale":{"domain":[2180.6,3463.2],"zero":false,"nice":false,"padding":0},
   "axis":{"orient":"right","title":null,"format":".2f","labelPadding":10,"labelOverlap":false,"tickCount":40,
    "values":[2200,2250,2300,2350,2400,2450,2500,2550,2600,2650,2700,2750,2800,2850,2900,2950,3000,3050,3100,3150,3200,3250,3300,3350,3400,3450]}},
  "y2":{"field":"h"}}},
{"data":{"name":"candles"},
 "mark":{"type":"bar","width":2.2,"stroke":"#131722","strokeWidth":1},
 "encoding":{
  "x":{"field":"t","type":"temporal"},
  "y":{"field":"o","type":"quantitative"},
  "y2":{"field":"c"},
  "fill":{"condition":{"test":"datum.c >= datum.o","value":"#ffffff"},"value":"#131722"}}},
{"data":{"name":"levels"},"transform":[{"filter":"datum.k == 'teal'"}],
 "mark":{"type":"rule","color":"#1f8f8c","strokeWidth":1},
 "encoding":{"y":{"field":"p","type":"quantitative"}}},
{"data":{"name":"levels"},"transform":[{"filter":"datum.k == 'dot'"}],
 "mark":{"type":"rule","color":"#6f727c","strokeWidth":1,"strokeDash":[1,2]},
 "encoding":{"y":{"field":"p","type":"quantitative"}}},
{"data":{"name":"levels"},"transform":[{"filter":"datum.k == 'price'"}],
 "mark":{"type":"rule","color":"#131722","strokeWidth":1,"strokeDash":[1,2]},
 "encoding":{"y":{"field":"p","type":"quantitative"}}},
{"data":{"name":"levels"},"transform":[{"filter":"datum.k == 'blue'"}],
 "mark":{"type":"rule","color":"#2a5bd7","strokeWidth":2},
 "encoding":{"y":{"field":"p","type":"quantitative"}}},
{"data":{"name":"trend"},
 "mark":{"type":"line","color":"#000000","strokeWidth":3},
 "encoding":{"x":{"field":"t","type":"temporal"},"y":{"field":"p","type":"quantitative"}}},
{"data":{"name":"tags"},"transform":[{"filter":"datum.k == 'blue'"}],
 "mark":{"type":"rule","color":"#2962ff","strokeWidth":17,"strokeCap":"butt"},
 "encoding":{
  "x":{"datum":{"year":2022,"month":4,"date":12,"hours":13,"minutes":0,"utc":true},"type":"temporal"},
  "x2":{"datum":{"year":2022,"month":4,"date":15,"hours":15,"minutes":40,"utc":true}},
  "y":{"field":"p","type":"quantitative"}}},
{"data":{"name":"tags"},"transform":[{"filter":"datum.k == 'price'"}],
 "mark":{"type":"rule","color":"#131722","strokeWidth":33,"strokeCap":"butt","yOffset":6.5},
 "encoding":{
  "x":{"datum":{"year":2022,"month":4,"date":12,"hours":13,"minutes":0,"utc":true},"type":"temporal"},
  "x2":{"datum":{"year":2022,"month":4,"date":15,"hours":19,"minutes":0,"utc":true}},
  "y":{"field":"p","type":"quantitative"}}},
{"data":{"name":"tags"},
 "mark":{"type":"text","color":"#ffffff","fontSize":13.5,"fontWeight":"bold","font":"Liberation Sans","align":"center","baseline":"middle","yOffset":1},
 "encoding":{
  "x":{"datum":{"year":2022,"month":4,"date":14,"hours":2,"minutes":0,"utc":true},"type":"temporal"},
  "y":{"field":"p","type":"quantitative"},
  "text":{"field":"lab"}}},
{"data":{"name":"tags"},"transform":[{"filter":"datum.k == 'price'"}],
 "mark":{"type":"text","color":"#ffffff","fontSize":13,"font":"Liberation Sans","align":"center","baseline":"middle","yOffset":15},
 "encoding":{
  "x":{"datum":{"year":2022,"month":4,"date":14,"hours":2,"minutes":0,"utc":true},"type":"temporal"},
  "y":{"field":"p","type":"quantitative"},
  "text":{"field":"sub"}}},
{"data":{"name":"unit"},
 "mark":{"type":"rect","fill":"#ffffff","stroke":"#c9ccd3","strokeWidth":1,"cornerRadius":3},
 "encoding":{
  "x":{"datum":{"year":2022,"month":4,"date":13,"hours":7,"minutes":0,"utc":true},"type":"temporal"},
  "x2":{"datum":{"year":2022,"month":4,"date":15,"hours":8,"minutes":0,"utc":true}},
  "y":{"datum":3453.4,"type":"quantitative"},
  "y2":{"datum":3424.3}}},
{"data":{"name":"unit"},
 "mark":{"type":"text","color":"#787b86","fontSize":11.5,"font":"Liberation Sans","align":"center","baseline":"middle"},
 "encoding":{
  "x":{"datum":{"year":2022,"month":4,"date":14,"hours":7,"minutes":30,"utc":true},"type":"temporal"},
  "y":{"datum":3438.9,"type":"quantitative"},
  "text":{"field":"lab"}}}
]
}
